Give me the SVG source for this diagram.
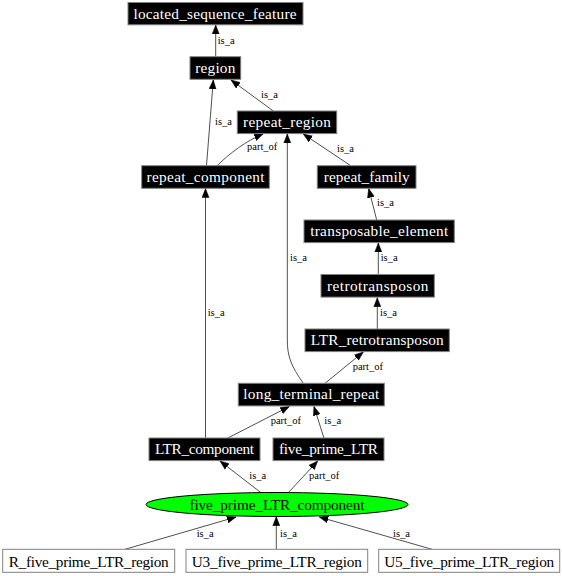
<svg xmlns="http://www.w3.org/2000/svg" width="562" height="576" viewBox="0 0 562 576">
<style>
.nb rect{fill:#000;stroke:#808080;stroke-width:1}
.nw rect{fill:#fff;stroke:#808080;stroke-width:1}
.nt{font-family:"Liberation Serif","Times New Roman",serif;font-size:15.3px;text-anchor:middle}
.nb .nt{fill:#fff}
.nw .nt,.ne .nt{fill:#000}
.e path{fill:none;stroke:#505050;stroke-width:1;marker-end:url(#arr)}
.el{font-family:"Liberation Serif","Times New Roman",serif;font-size:10.5px;fill:#000}
</style>
<defs>
<marker id="arr" markerUnits="userSpaceOnUse" markerWidth="10" markerHeight="8" refX="9" refY="3.5" orient="auto" viewBox="0 0 10 7">
<path d="M0,0 L9,3.5 L0,7 z" fill="#000" stroke="#000" stroke-width="0.5"/>
</marker>
</defs>
<rect width="562" height="576" fill="#fff"/>
<g id="edges" class="e">
<path d="M215.7,56.7 L215.7,25"/>
<path d="M273.3,111 L231,80"/>
<path d="M206.5,165.5 L213.3,80"/>
<path d="M217.3,165.5 C230,153 246,141 263.3,133.8"/>
<path d="M350.7,165.7 L303.3,134"/>
<path d="M376.7,220 L368.7,188.6"/>
<path d="M378.3,274 L378.3,243"/>
<path d="M377.3,329 L377.3,297.7"/>
<path d="M325,383.3 L363.3,352"/>
<path d="M303.3,383.3 C291,366 287.3,356 287.3,340 L287.3,134"/>
<path d="M205.5,438 L205.5,188.6"/>
<path d="M227.3,438.3 L289.3,406.5"/>
<path d="M324,438.3 L314,406.5"/>
<path d="M261,492.7 L220,461"/>
<path d="M288.3,492.7 L317.7,461"/>
<path d="M125,549.3 L236,517"/>
<path d="M276.3,549.3 L276.3,516.8"/>
<path d="M432,549.3 L319.3,517"/>
<g id="edge-labels">
<text class="el" x="217.7" y="43.5">is_a</text>
<text class="el" x="261" y="97.8">is_a</text>
<text class="el" x="215" y="124.6">is_a</text>
<text class="el" x="247" y="149.5">part_of</text>
<text class="el" x="337" y="151.8">is_a</text>
<text class="el" x="377" y="206">is_a</text>
<text class="el" x="380.7" y="260.8">is_a</text>
<text class="el" x="380" y="315.6">is_a</text>
<text class="el" x="352.7" y="369.5">part_of</text>
<text class="el" x="290" y="260.8">is_a</text>
<text class="el" x="207.7" y="315.6">is_a</text>
<text class="el" x="270.7" y="423.5">part_of</text>
<text class="el" x="324.3" y="423.5">is_a</text>
<text class="el" x="249.3" y="478.5">is_a</text>
<text class="el" x="309" y="478.5">part_of</text>
<text class="el" x="196.7" y="536.5">is_a</text>
<text class="el" x="280" y="536.5">is_a</text>
<text class="el" x="393" y="536.5">is_a</text>
</g>
</g>
<g id="located_sequence_feature" class="nb"><rect x="128" y="2.5" width="175" height="22.3"/><text class="nt" x="215" y="18.6" textLength="163" lengthAdjust="spacing">located_sequence_feature</text></g>
<g id="region" class="nb"><rect x="190" y="56.7" width="50.7" height="22.6"/><text class="nt" x="215.3" y="72.8" textLength="40" lengthAdjust="spacing">region</text></g>
<g id="repeat_region" class="nb"><rect x="237.3" y="111" width="99.4" height="22.6"/><text class="nt" x="287" y="127.1" textLength="88" lengthAdjust="spacing">repeat_region</text></g>
<g id="repeat_component" class="nb"><rect x="141.7" y="165.7" width="127.6" height="22.6"/><text class="nt" x="205.5" y="181.8" textLength="118" lengthAdjust="spacing">repeat_component</text></g>
<g id="repeat_family" class="nb"><rect x="317.3" y="165.7" width="98.7" height="22.6"/><text class="nt" x="366.7" y="181.8" textLength="86" lengthAdjust="spacing">repeat_family</text></g>
<g id="transposable_element" class="nb"><rect x="304" y="220" width="150.3" height="22.6"/><text class="nt" x="379.2" y="236.1" textLength="138" lengthAdjust="spacing">transposable_element</text></g>
<g id="retrotransposon" class="nb"><rect x="321" y="274.5" width="113.3" height="22.6"/><text class="nt" x="377.7" y="290.6" textLength="101.5" lengthAdjust="spacing">retrotransposon</text></g>
<g id="LTR_retrotransposon" class="nb"><rect x="305" y="329" width="144.3" height="22.6"/><text class="nt" x="377.2" y="345.1" textLength="133" lengthAdjust="spacing">LTR_retrotransposon</text></g>
<g id="long_terminal_repeat" class="nb"><rect x="238.3" y="383.3" width="146" height="22.6"/><text class="nt" x="311.3" y="399.4" textLength="136" lengthAdjust="spacing">long_terminal_repeat</text></g>
<g id="LTR_component" class="nb"><rect x="149" y="438" width="111" height="22.6"/><text class="nt" x="204.5" y="454.1" textLength="99" lengthAdjust="spacing">LTR_component</text></g>
<g id="five_prime_LTR" class="nb"><rect x="273" y="438" width="111" height="22.6"/><text class="nt" x="328.5" y="454.1" textLength="99" lengthAdjust="spacing">five_prime_LTR</text></g>
<g id="five_prime_LTR_component" class="ne"><ellipse cx="277" cy="504.5" rx="131" ry="12" fill="#00ff00" stroke="#000" stroke-width="1"/><text class="nt" x="277" y="509.6" textLength="175" lengthAdjust="spacing">five_prime_LTR_component</text></g>
<g id="R_five_prime_LTR_region" class="nw"><rect x="2.7" y="549.3" width="172" height="23"/><text class="nt" x="88.7" y="566.5" textLength="160" lengthAdjust="spacing">R_five_prime_LTR_region</text></g>
<g id="U3_five_prime_LTR_region" class="nw"><rect x="186" y="549.3" width="181.7" height="23"/><text class="nt" x="276.8" y="566.5" textLength="170" lengthAdjust="spacing">U3_five_prime_LTR_region</text></g>
<g id="U5_five_prime_LTR_region" class="nw"><rect x="378.7" y="549.3" width="181" height="23"/><text class="nt" x="469.2" y="566.5" textLength="170" lengthAdjust="spacing">U5_five_prime_LTR_region</text></g>
</svg>
